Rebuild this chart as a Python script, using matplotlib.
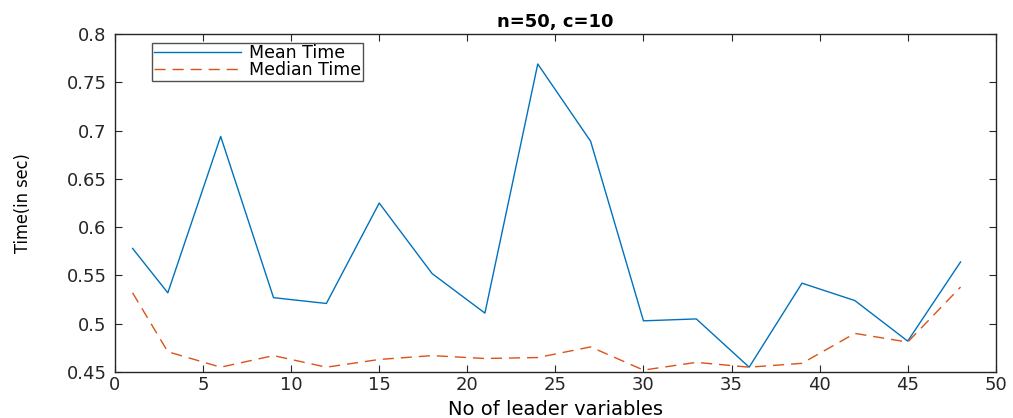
import matplotlib
matplotlib.use("Agg")
import matplotlib.pyplot as plt

leaders = [1, 3, 6, 9, 12, 15, 18, 21, 24, 27, 30, 33, 36, 39, 42, 45, 48]
mean_time = [0.578, 0.532, 0.694, 0.527, 0.521, 0.625, 0.552, 0.511, 0.769,
             0.689, 0.503, 0.505, 0.455, 0.542, 0.524, 0.482, 0.564]
median_time = [0.532, 0.471, 0.455, 0.467, 0.455, 0.463, 0.467, 0.464, 0.465,
               0.476, 0.452, 0.460, 0.455, 0.459, 0.490, 0.481, 0.538]

xticks = list(range(0, 51, 5))
yticks = [0.45, 0.5, 0.55, 0.6, 0.65, 0.7, 0.75, 0.8]
ytick_labels = ["0.45", "0.5", "0.55", "0.6", "0.65", "0.7", "0.75", "0.8"]

plt.rcParams['font.family'] = ['DejaVu Sans']

fig = plt.figure(figsize=(10.13, 4.18), dpi=100)
ax = fig.add_axes([0.1135, 0.110, 0.8695, 0.8085])

ax.plot(leaders, mean_time, color='#0072BD', lw=1.0, label='Mean Time')
ax.plot(leaders, median_time, color='#D95319', lw=1.0, dashes=(8, 5),
        label='Median Time')

ax.set_xlim(0, 50)
ax.set_ylim(0.45, 0.8)
ax.set_xticks(xticks)
ax.set_yticks(yticks)
ax.set_yticklabels(ytick_labels)
ax.tick_params(direction='in', top=True, right=True, labelsize=13,
               length=5, color='#262626', labelcolor='#262626')
ax.tick_params(axis='x', pad=3)
ax.tick_params(axis='y', pad=6)
for s in ax.spines.values():
    s.set_color('#262626')
    s.set_linewidth(1.0)

ax.set_title('n=50, c=10', fontsize=13, fontweight='bold', pad=5)
ax.set_xlabel('No of leader variables', fontsize=14)
ax.xaxis.set_label_coords(0.5, -0.083)
ax.set_ylabel('Time(in sec)', fontsize=13, stretch='condensed')
ax.yaxis.set_label_coords(-0.094, 0.5)

leg = ax.legend(loc='upper left', bbox_to_anchor=(0.042, 0.975), fontsize=12.5,
                handlelength=5.0, frameon=True, fancybox=False,
                borderpad=0.1, labelspacing=-0.05, handletextpad=0.5,
                borderaxespad=0.0)
leg.get_frame().set_edgecolor('#262626')
leg.get_frame().set_linewidth(1.0)

fig.savefig('out.png', dpi=100)
